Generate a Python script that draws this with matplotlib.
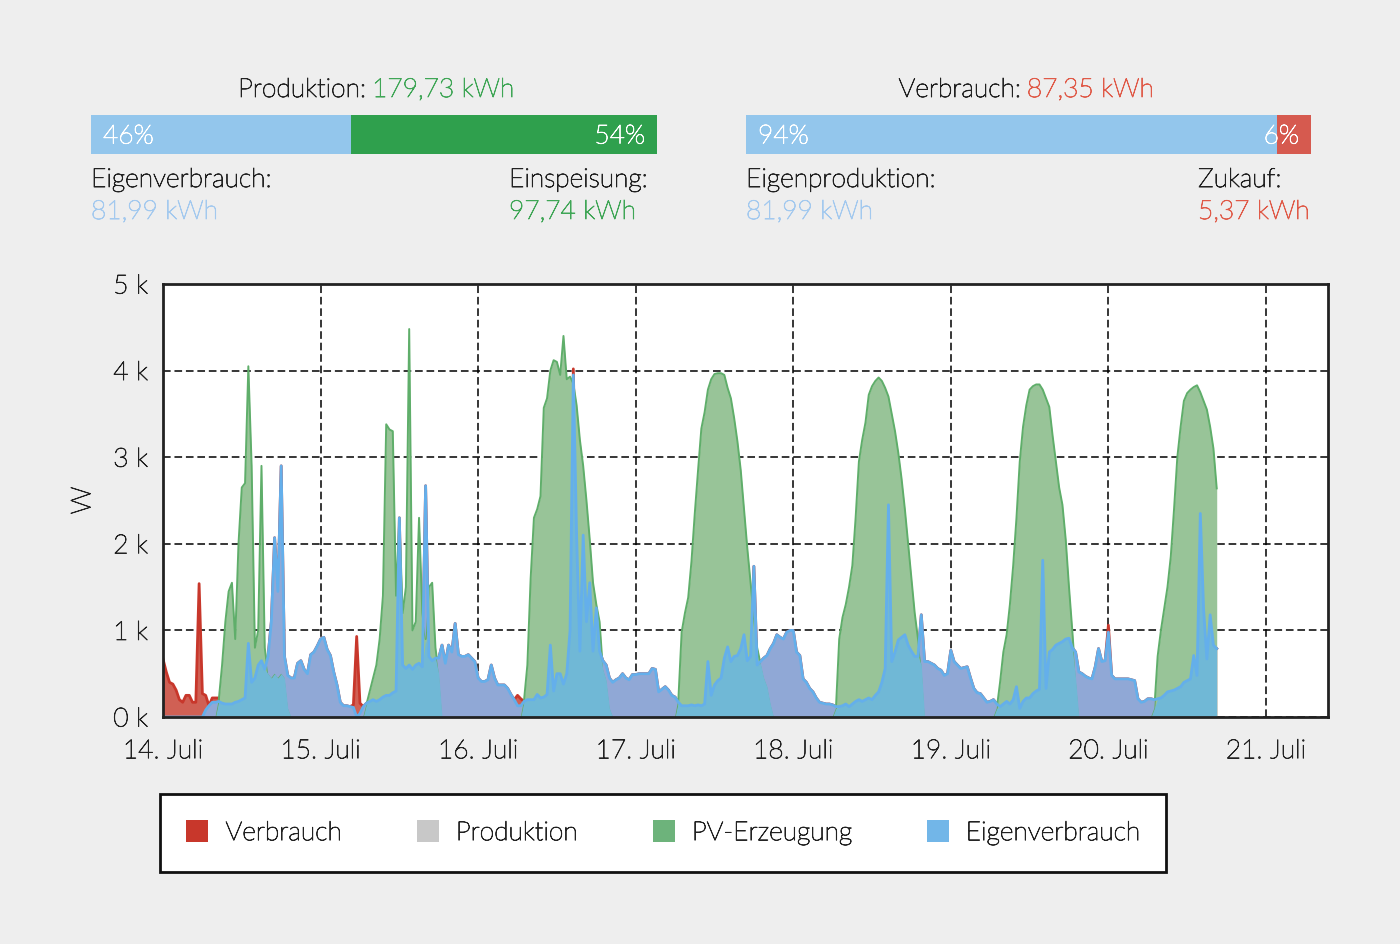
import numpy as np
import matplotlib
matplotlib.use("Agg")
import matplotlib.pyplot as plt
import matplotlib.patheffects as pe
from matplotlib.patches import Patch
from matplotlib.text import Text

plt.rcParams["font.family"] = ["Lato", "DejaVu Sans"]
plt.rcParams["font.weight"] = "light"
plt.rcParams["axes.labelweight"] = "light"

FS = 19

# ── Daten ────────────────────────────────────────────────────────────────────
# Halbstundenwerte in W ab 14. Juli 00:00

INTERVALL_H = 0.5

eigen_w = [
    # 14. Juli
    0, 0, 0, 0, 0, 0, 0, 0, 0, 0, 0, 0,
    0, 80, 130, 170, 170, 180, 160, 150, 150, 150, 170, 180,
    200, 220, 850, 400, 450, 600, 650, 550, 700, 1100, 2070, 1450,
    2900, 700, 480, 450, 450, 620, 650, 550, 500, 720, 750, 820,
    # 15. Juli
    900, 920, 780, 710, 520, 370, 170, 130, 130, 120, 110, 0,
    40, 120, 160, 180, 200, 180, 200, 230, 250, 250, 280, 300,
    2300, 600, 560, 600, 550, 600, 620, 580, 2670, 700, 650, 680,
    680, 830, 620, 830, 750, 1080, 720, 700, 700, 720, 680, 640,
    # 16. Juli
    450, 410, 410, 430, 600, 450, 370, 370, 370, 330, 260, 200,
    130, 130, 180, 200, 200, 200, 260, 220, 230, 260, 830, 300,
    500, 500, 380, 500, 1000, 3950, 2100, 760, 2100, 1100, 1550, 760,
    1260, 760, 650, 600, 450, 400, 430, 450, 500, 450, 430, 490,
    # 17. Juli
    490, 500, 500, 500, 500, 560, 550, 290, 320, 350, 310, 250,
    230, 170, 130, 130, 130, 140, 130, 140, 130, 150, 640, 250,
    370, 420, 450, 680, 810, 640, 700, 710, 790, 950, 650, 700,
    1740, 600, 640, 680, 710, 790, 850, 950, 920, 900, 980, 1000,
    # 18. Juli
    1000, 750, 710, 440, 400, 330, 290, 220, 170, 160, 150, 150,
    140, 120, 120, 130, 150, 120, 150, 180, 200, 180, 200, 220,
    200, 250, 290, 400, 560, 2450, 640, 750, 890, 920, 950, 830,
    760, 700, 700, 1180, 640, 640, 620, 600, 560, 540, 480, 500,
    # 19. Juli
    770, 640, 600, 560, 570, 580, 450, 330, 280, 270, 220, 170,
    180, 200, 150, 120, 150, 180, 150, 200, 350, 100, 180, 220,
    220, 270, 300, 320, 1810, 330, 750, 780, 830, 850, 870, 900,
    910, 800, 750, 520, 500, 470, 450, 440, 580, 790, 640, 650,
    # 20. Juli
    980, 480, 440, 440, 440, 440, 440, 430, 420, 210, 170, 180,
    210, 210, 200, 210, 220, 250, 290, 300, 310, 330, 350, 400,
    420, 440, 710, 480, 2350, 1250, 670, 1180, 830, 790,
]

zukauf_w = [
    # 14. Juli
    670, 520, 400, 380, 310, 200, 170, 250, 250, 170, 170, 1540,
    270, 170, 0, 50, 50, 40, 0, 0, 0, 0, 0, 0,
    0, 0, 0, 0, 0, 0, 0, 0, 0, 0, 0, 0,
    0, 0, 0, 0, 0, 0, 0, 0, 0, 0, 0, 0,
    # 15. Juli
    0, 0, 0, 0, 0, 0, 0, 0, 0, 0, 30, 930,
    120, 0, 0, 0, 0, 0, 0, 0, 0, 0, 0, 0,
    0, 0, 0, 0, 0, 0, 0, 0, 0, 0, 0, 0,
    0, 0, 0, 0, 0, 0, 0, 0, 0, 0, 0, 0,
    # 16. Juli
    0, 0, 0, 0, 0, 0, 0, 0, 0, 0, 0, 0,
    120, 80, 0, 0, 0, 0, 0, 0, 0, 0, 0, 0,
    0, 0, 0, 0, 0, 70, 0, 0, 0, 0, 0, 0,
    0, 0, 0, 0, 0, 0, 0, 0, 0, 0, 0, 0,
    # 17. Juli
    0, 0, 0, 0, 0, 0, 0, 0, 0, 0, 0, 0,
    0, 0, 0, 0, 0, 0, 0, 0, 0, 0, 0, 0,
    0, 0, 0, 0, 0, 0, 0, 0, 0, 0, 0, 0,
    0, 0, 0, 0, 0, 0, 0, 0, 0, 0, 0, 0,
    # 18. Juli
    0, 0, 0, 0, 0, 0, 0, 0, 0, 0, 0, 0,
    0, 0, 0, 0, 0, 0, 0, 0, 0, 0, 0, 0,
    0, 0, 0, 0, 0, 0, 0, 0, 0, 0, 0, 0,
    0, 0, 0, 0, 0, 0, 0, 0, 0, 0, 0, 0,
    # 19. Juli
    0, 0, 0, 0, 0, 0, 0, 0, 0, 0, 0, 0,
    0, 0, 0, 0, 0, 0, 0, 0, 0, 0, 0, 0,
    0, 0, 0, 0, 0, 0, 0, 0, 0, 0, 0, 0,
    0, 0, 0, 0, 0, 0, 0, 0, 0, 0, 0, 0,
    # 20. Juli
    80, 0, 0, 0, 0, 0, 0, 0, 0, 0, 0, 0,
    0, 0, 0, 0, 0, 0, 0, 0, 0, 0, 0, 0,
    0, 0, 0, 0, 0, 0, 0, 0, 0, 0,
]

pv_w = [
    # 14. Juli
    0, 0, 0, 0, 0, 0, 0, 0, 0, 0, 0, 0,
    0, 0, 0, 0, 0, 200, 600, 1100, 1450, 1550, 900, 2000,
    2650, 2700, 4050, 2900, 800, 1000, 2900, 800, 500, 450, 500, 450,
    500, 450, 100, 0, 0, 0, 0, 0, 0, 0, 0, 0,
    # 15. Juli
    0, 0, 0, 0, 0, 0, 0, 0, 0, 0, 0, 0,
    0, 0, 150, 300, 450, 600, 900, 1400, 3380, 3320, 3300, 1400,
    2300, 1200, 1500, 4480, 1000, 1100, 2300, 1200, 900, 1500, 1550, 800,
    500, 0, 0, 0, 0, 0, 0, 0, 0, 0, 0, 0,
    # 16. Juli
    0, 0, 0, 0, 0, 0, 0, 0, 0, 0, 0, 0,
    0, 0, 200, 600, 1600, 2300, 2400, 2550, 3570, 3680, 4000, 4120,
    4100, 3950, 4400, 3900, 3930, 3850, 3600, 3200, 2900, 2500, 2050, 1550,
    1300, 1100, 550, 420, 100, 0, 0, 0, 0, 0, 0, 0,
    # 17. Juli
    0, 0, 0, 0, 0, 0, 0, 0, 0, 0, 0, 0,
    0, 200, 980, 1200, 1380, 1800, 2350, 2850, 3330, 3520, 3780, 3900,
    3960, 3970, 3970, 3950, 3800, 3680, 3450, 3180, 2850, 2400, 1950, 1550,
    1150, 800, 620, 450, 350, 150, 0, 0, 0, 0, 0, 0,
    # 18. Juli
    0, 0, 0, 0, 0, 0, 0, 0, 0, 0, 0, 0,
    0, 100, 900, 1150, 1300, 1500, 1750, 2300, 2950, 3200, 3400, 3720,
    3820, 3880, 3920, 3880, 3800, 3700, 3500, 3300, 3050, 2750, 2400, 2000,
    1600, 1200, 900, 600, 0, 0, 0, 0, 0, 0, 0, 0,
    # 19. Juli
    0, 0, 0, 0, 0, 0, 0, 0, 0, 0, 0, 0,
    0, 0, 100, 400, 750, 950, 1300, 1750, 2300, 2950, 3350, 3600,
    3780, 3820, 3840, 3840, 3780, 3680, 3580, 3250, 2950, 2650, 2450, 2050,
    1500, 1000, 450, 0, 0, 0, 0, 0, 0, 0, 0, 0,
    # 20. Juli
    0, 0, 0, 0, 0, 0, 0, 0, 0, 0, 0, 0,
    0, 0, 100, 700, 1000, 1250, 1500, 1850, 2400, 3000, 3350, 3650,
    3740, 3780, 3810, 3830, 3750, 3650, 3550, 3350, 3100, 2640,
]

TAGE     = ["14. Juli", "15. Juli", "16. Juli", "17. Juli",
            "18. Juli", "19. Juli", "20. Juli", "21. Juli"]
Y_TICKS  = [0, 1000, 2000, 3000, 4000, 5000]

# Kennzahlen oben
prod_kwh, eigenverbr_kwh, einspeis_kwh = 179.73, 81.99, 97.74
verbr_kwh, eigenprod_kwh, zukauf_kwh   = 87.35, 81.99, 5.37
prod_anteile  = [46, 54]
verbr_anteile = [94, 6]

LEGENDE = ["Verbrauch", "Produktion", "PV-Erzeugung", "Eigenverbrauch"]

# ── Farben ───────────────────────────────────────────────────────────────────

TEXT     = "#222222"
HELLBLAU = "#a3c9ee"
GRUEN_T  = "#3fa656"
ROT_T    = "#e05a48"

def kwh(v):
    return f"{v:.2f}".replace(".", ",") + " kWh"

eigen  = np.array(eigen_w, dtype=float)
zukauf = np.array(zukauf_w, dtype=float)
pv     = np.array(pv_w, dtype=float)
t      = np.arange(len(eigen)) * INTERVALL_H
verbrauch = eigen + zukauf

# ── Figur ────────────────────────────────────────────────────────────────────

fig = plt.figure(figsize=(14, 9.45), dpi=100, facecolor="#eeeeee")
W, H = 1400, 945

ax = fig.add_axes([163 / W, 1 - 718 / H, 1165 / W, 433 / H])
ax.set_facecolor("white")

# Flächen: Verbrauch, PV, Eigenverbrauch (ohne / mit PV darunter)
ax.fill_between(t, 0, verbrauch, color="#d06054", lw=0, zorder=2)
ax.plot(t, verbrauch, color="#c8372b", lw=2, zorder=2.1)
ax.fill_between(t, 0, pv, color="#98c498", lw=0, zorder=2.2)
ax.plot(t, pv, color="#5fae6a", lw=1.4, zorder=2.3)
ax.fill_between(t, pv, eigen, where=eigen > pv, interpolate=True,
                color="#90a8d6", lw=0, zorder=2.4)
ax.fill_between(t, 0, np.minimum(eigen, pv), color="#70b8d6", lw=0, zorder=2.5)
ax.plot(t, eigen, color="#64afeb", lw=2, zorder=2.6)

ax.set_xlim(0, 177.45)
ax.set_ylim(0, 5000)
ax.set_xticks(np.arange(len(TAGE)) * 24, TAGE)
ax.set_yticks(Y_TICKS, [f"{v // 1000} k" for v in Y_TICKS])
ax.tick_params(axis="both", length=0, labelsize=FS, colors=TEXT)
ax.tick_params(axis="x", pad=16)
ax.tick_params(axis="y", pad=11)
ax.grid(True, color="black", lw=1.1, ls=(0, (5, 2.5)))
for s in ax.spines.values():
    s.set_linewidth(2)
    s.set_color("#222222")
    s.set_zorder(10)
ax.set_ylabel("W", fontsize=FS + 1, color=TEXT, fontweight="light")
ax.yaxis.set_label_coords(-0.058, 0.5)

# ── Balken oben ──────────────────────────────────────────────────────────────

def balken(x0, x1, anteile, farben):
    b = fig.add_axes([x0 / W, 1 - 155 / H, (x1 - x0) / W, 39 / H])
    links = 0
    for a, f in zip(anteile, farben):
        b.barh(0, a, left=links, height=1, color=f, lw=0)
        links += a
    b.set_xlim(0, 100)
    b.set_ylim(-0.5, 0.5)
    b.axis("off")
    b.annotate(f"{anteile[0]}%", xy=(0, 0), xycoords=("axes fraction", "data"),
               xytext=(12, -9), textcoords="offset pixels", ha="left", va="baseline",
               fontsize=FS, color="white")
    b.annotate(f"{anteile[1]}%", xy=(1, 0), xycoords=("axes fraction", "data"),
               xytext=(-12, -9), textcoords="offset pixels", ha="right", va="baseline",
               fontsize=FS, color="white")

balken(91, 657, prod_anteile, ["#93c6ec", "#2fa04d"])
balken(746, 1311, verbr_anteile, ["#93c6ec", "#d65a4f"])

ov = fig.add_axes([0, 0, 1, 1])
ov.set_xlim(0, W)
ov.set_ylim(H, 0)
ov.axis("off")

renderer = fig.canvas.get_renderer()

def titel(x_mitte, y, teil1, teil2, farbe2):
    t1 = ov.text(0, y, teil1, fontsize=FS, color=TEXT, va="baseline")
    t2 = ov.text(0, y, teil2, fontsize=FS, color=farbe2, va="baseline")
    w1 = t1.get_window_extent(renderer).width
    w2 = t2.get_window_extent(renderer).width
    x0 = x_mitte - (w1 + w2 + 6) / 2
    t1.set_x(x0)
    t2.set_x(x0 + w1 + 6)

titel(376, 98, "Produktion:", kwh(prod_kwh), GRUEN_T)
titel(1026, 98, "Verbrauch:", kwh(verbr_kwh), ROT_T)

for x, lab, val, col in [(91, "Eigenverbrauch:", eigenverbr_kwh, HELLBLAU),
                         (509, "Einspeisung:", einspeis_kwh, GRUEN_T),
                         (746, "Eigenproduktion:", eigenprod_kwh, HELLBLAU),
                         (1198, "Zukauf:", zukauf_kwh, ROT_T)]:
    ov.text(x, 188, lab, fontsize=FS, color=TEXT, va="baseline")
    ov.text(x, 220, kwh(val), fontsize=FS, color=col, va="baseline")

# ── Legende ──────────────────────────────────────────────────────────────────

handles = [Patch(facecolor=c, edgecolor="none")
           for c in ["#c8372b", "#c8c8c8", "#6db37b", "#72b6e8"]]
leg = fig.legend(handles, LEGENDE, loc="upper left",
                 bbox_to_anchor=(160 / W, 1 - 795 / H), ncol=4,
                 fontsize=FS, frameon=True, fancybox=False,
                 handlelength=0.83, handleheight=0.87, handletextpad=0.65,
                 columnspacing=2.85, borderpad=1.0, borderaxespad=0)
leg.get_frame().set_edgecolor("#111111")
leg.get_frame().set_linewidth(2)
leg.get_frame().set_alpha(1)
for txt in leg.get_texts():
    txt.set_color(TEXT)

# leichte Schrift etwas kräftiger zeichnen
for txt in fig.findobj(Text):
    txt.set_path_effects([pe.withStroke(linewidth=0.6, foreground=txt.get_color())])

fig.savefig("out.png", dpi=100, facecolor=fig.get_facecolor())
